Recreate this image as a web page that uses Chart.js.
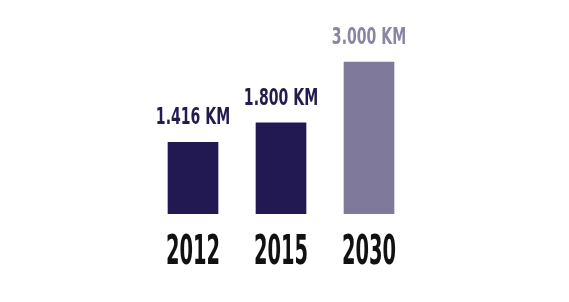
<!DOCTYPE html>
<html>
<head>
<meta charset="utf-8">
<script src="https://cdn.jsdelivr.net/npm/chart.js@4"></script>
<style>
  html, body { margin: 0; padding: 0; background: #fff; }
  #wrap { width: 569px; height: 302px; position: relative; }
</style>
</head>
<body>
<div id="wrap"><canvas id="kmChart"></canvas></div>
<script>
/* Network length chart */
const years = ['2012', '2015', '2030'];
const kmValues = [1416, 1800, 3000];
const valueLabels = ['1.416 KM', '1.800 KM', '3.000 KM'];
const barColors = ['#221852', '#221852', '#7f7a9b'];
const labelColors = ['#231c4f', '#231c4f', '#8a85a2'];

// draws condensed text (the original uses a narrow display face)
function drawSqueezed(ctx, text, x, y, size, squeeze, color) {
  ctx.save();
  ctx.font = 'bold ' + size + 'px "Liberation Sans Narrow", "DejaVu Sans Condensed", sans-serif';
  ctx.fillStyle = color;
  ctx.textAlign = 'center';
  ctx.textBaseline = 'alphabetic';
  ctx.translate(x, y);
  ctx.scale(squeeze, 1);
  ctx.fillText(text, 0, 0);
  ctx.restore();
}

const labelPlugin = {
  id: 'kmLabels',
  afterDatasetsDraw(chart) {
    const ctx = chart.ctx;
    const meta = chart.getDatasetMeta(0);
    const xScale = chart.scales.x;
    meta.data.forEach((bar, i) => {
      drawSqueezed(ctx, valueLabels[i], bar.x, bar.y - 18, 23, 0.68, labelColors[i]);
      const tx = xScale.getPixelForTick(i);
      drawSqueezed(ctx, chart.data.labels[i], tx, chart.chartArea.bottom + 50, 40, 0.54, '#111111');
    });
  }
};

new Chart(document.getElementById('kmChart'), {
  type: 'bar',
  data: {
    labels: years,
    datasets: [{ data: kmValues, backgroundColor: barColors, borderWidth: 0, barThickness: 50 }]
  },
  options: {
    responsive: true, maintainAspectRatio: false, animation: false,
    layout: { padding: { left: 149, right: 156, top: 0, bottom: 88 } },
    plugins: { legend: { display: false }, tooltip: { enabled: false } },
    scales: {
      x: { display: false },
      y: { display: false, min: 0, max: 4224 }
    }
  },
  plugins: [labelPlugin]
});
</script>
</body>
</html>
